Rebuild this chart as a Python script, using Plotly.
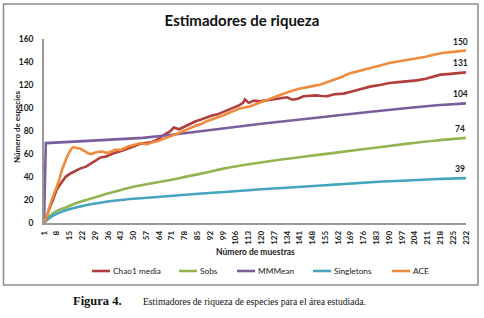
import plotly.graph_objects as go

# ---------------- data ----------------
chao1_x = [1,3,5,8,10,13,16,19,21,24,27,30,32,35,37,39,42,46,50,54,57,60,63,66,68,70,72,75,78,81,84,87,90,93,96,99,102,105,108,110,111,113,116,119,122,125,128,131,134,137,140,143,147,150,153,156,160,165,170,175,180,185,190,195,200,205,210,214,218,222,226,229,232]
chao1_y = [0,8,16.5,29,34,40.4,43.5,46.2,47.5,49,52,55.5,57,57.8,59.5,60.7,62,64,66.5,69,69.8,70.5,72.5,76,78,79.6,83,81.5,84,86,88.5,90,92,93.5,94.5,96.5,98.5,100,102.5,104.5,107.5,104.5,106.5,105.8,106.5,107.2,108,108.7,109.3,107.2,108,110.2,110.8,111,110.5,110.2,112,112.5,114.5,116.5,118.8,120,121.8,122.5,123.2,124,125.5,127,129,129.5,130,130.5,131]

sobs_x = [1,4,8,13,18,25,32,40,50,60,75,90,100,115,130,145,160,180,200,216,232]
sobs_y = [0,6,10.5,13.5,17,20.5,23.8,27.3,31.5,34.5,39,44,47.5,51.5,55,58,61,65,69,71.8,74]

mm_x = [1,2,20,40,55,70,85,100,120,140,160,180,200,216,232]
mm_y = [0,69.5,71,72.8,74,76.5,79.5,82.8,86.3,89.8,93.5,96.8,100,102.4,104]

sing_x = [1,4,8,13,18,25,35,45,54,65,80,100,120,140,160,180,200,216,232]
sing_y = [0,4.5,8,11,13.3,15.8,18.5,20.3,21.5,22.8,24.8,27,29.3,31.3,33.4,35.5,37,38.2,39]

ace_x = [1,3,5,7,9,11,13,14,16,17,19,21,23,25,27,29,31,33,35,37,40,43,47,51,54,57,60,63,66,70,74,78,81,84,87,90,93,96,99,102,105,108,111,114,117,120,124,128,132,136,140,144,148,152,156,160,164,168,172,176,180,185,190,195,200,205,210,215,220,225,229,232]
ace_y = [0,8,19,27,36,47,55,59,64.5,66,65.3,64.5,62.8,60.7,59.8,61.3,62,62.2,61,61.5,63.6,63.6,66.5,68,69.5,68.3,70,71,73,75.3,77.6,80,82.5,84.5,86,88.5,90,92,93.5,95.6,97.5,99.5,100.5,101.5,103.5,105.5,107.5,110,112.5,114.5,116.5,118,119,120.3,122.5,124.5,127,130,131.5,133.5,135,137,139.2,140.5,142,143,144.5,146.5,148,148.8,149.5,150]

series_names = ["Chao1 media", "Sobs", "MMMean", "Singletons", "ACE"]

x_tick_vals = [1,8,15,22,29,36,43,50,57,64,71,78,85,92,99,106,113,120,127,134,141,148,155,162,169,176,183,190,197,204,211,218,225,232]
y_tick_vals = [0,20,40,60,80,100,120,140,160]

# ---------------- figure ----------------
FONT = "Lato"
TXT = "#1a1a1a"
colors = ["#B03E3C", "#92B451", "#7B5E9E", "#45A5BF", "#EE8B3C"]
series = [
    (chao1_x, chao1_y, "linear"),
    (sobs_x, sobs_y, "spline"),
    (mm_x, mm_y, "linear"),
    (sing_x, sing_y, "spline"),
    (ace_x, ace_y, "linear"),
]

fig = go.Figure()
for (xs, ys, shape), name, col in zip(series, series_names, colors):
    fig.add_trace(go.Scatter(x=xs, y=ys, mode="lines", name=name, showlegend=False,
                             line=dict(color=col, width=2.6, shape=shape)))

# plot area in px: x 44..466, y 39..223
PW, PH = 422.0, 184.0
def px(x):
    return (x - 44) / PW
def py(y):
    return (223 - y) / PH

annotations = []
# end-of-line value labels
for (xs, ys, _), col in zip(series, colors):
    annotations.append(dict(x=xs[-1], y=ys[-1], xref="x", yref="y",
                            text=f"<b>{ys[-1]:.0f}</b>", showarrow=False,
                            xanchor="center", yanchor="middle",
                            xshift=-6, yshift=9,
                            font=dict(family=FONT, size=8.5, color=TXT)))

annotations += [
    dict(x=px(17), y=py(127), xref="paper", yref="paper", text="<b>Número de especies</b>",
         textangle=-90, showarrow=False, xanchor="center", yanchor="middle",
         font=dict(family=FONT, size=8, color=TXT)),
    # x-axis title: anchored at the bottom of the plot area, pushed down by a pixel shift
    dict(x=0.5, y=0, xref="paper", yref="paper", text="<b>Número de muestras</b>",
         showarrow=False, xanchor="center", yanchor="middle", yshift=-29,
         font=dict(family=FONT, size=8.5, color=TXT)),
    dict(x=px(97), y=py(301), xref="paper", yref="paper", text="<b>Figura 4.</b>",
         showarrow=False, xanchor="center", yanchor="middle",
         font=dict(family="Liberation Serif", size=12.5, color="#111")),
    dict(x=px(141), y=py(301), xref="paper", yref="paper", xanchor="left", yanchor="middle",
         text="Estimadores de riqueza de especies para el área estudiada.",
         showarrow=False, font=dict(family="Liberation Serif", size=9.6, color="#111")),
]

shapes = [
    dict(type="rect", xref="paper", yref="paper", x0=px(3.5), x1=px(478), y0=py(285), y1=py(4),
         line=dict(color="#8c8c8c", width=1.5), fillcolor="rgba(0,0,0,0)", layer="below"),
]

# legend row (key line + label for each series)
legend_line_px = [92, 179, 237, 313, 392]
LEG_Y = py(271)
for name, col, lx in zip(series_names, colors, legend_line_px):
    shapes.append(dict(type="line", xref="paper", yref="paper", x0=px(lx), x1=px(lx + 18),
                       y0=LEG_Y, y1=LEG_Y, line=dict(color=col, width=2.6)))
    annotations.append(dict(x=px(lx + 19), y=LEG_Y, xref="paper", yref="paper", text=name,
                            xanchor="left", yanchor="middle", showarrow=False,
                            font=dict(family=FONT, size=8.3, color=TXT)))

fig.update_layout(
    width=484, height=318,
    margin=dict(l=44, r=18, t=39, b=95),
    paper_bgcolor="white", plot_bgcolor="white",
    title=dict(text="<b>Estimadores de riqueza</b>", x=0.5, xref="container", xanchor="center",
               y=1 - 21 / 318, yref="container", yanchor="middle",
               font=dict(family=FONT, size=15, color="#111")),
    font=dict(family=FONT, color=TXT),
    showlegend=False,
    annotations=annotations,
    shapes=shapes,
)
fig.update_xaxes(range=[1, 232], tickmode="array", tickvals=x_tick_vals,
                 ticktext=[str(v) for v in x_tick_vals], tickangle=-90,
                 showgrid=False, zeroline=False, showline=True, linecolor="#9a9a9a", linewidth=1.5,
                 ticks="", ticklabelstandoff=3, automargin=False,
                 tickfont=dict(family=FONT, size=8, color=TXT, weight="bold"))
fig.update_yaxes(range=[0, 160], tickmode="array", tickvals=y_tick_vals,
                 showgrid=False, zeroline=False, showline=True, linecolor="#9a9a9a", linewidth=1.5,
                 ticks="", ticklabelstandoff=7, automargin=False,
                 tickfont=dict(family=FONT, size=8.5, color=TXT, weight="bold"))

fig.write_html("out.html", config={"displayModeBar": False},
               post_script="document.body.style.margin='0px';")
